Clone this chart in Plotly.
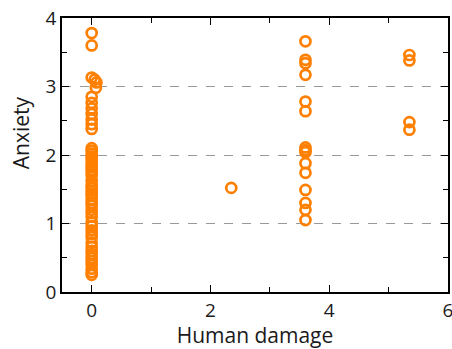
import plotly.graph_objects as go

# Human damage score (x) and anxiety score (y) per respondent
damage_zero = [0, 0, 0, 0.05, 0.08, 0.07, 0, 0, 0, 0, 0, 0, 0,
               0, 0, 0, 0, 0, 0, 0, 0, 0, 0, 0, 0, 0, 0, 0,
               0, 0, 0, 0, 0, 0, 0, 0, 0, 0, 0, 0, 0, 0, 0,
               0, 0, 0, 0, 0, 0, 0, 0]
anxiety_zero = [3.78, 3.60, 3.13, 3.10, 3.06, 2.98, 2.85, 2.76, 2.68, 2.60, 2.52, 2.45, 2.38,
                2.10, 2.06, 2.02, 1.98, 1.94, 1.90, 1.86, 1.82, 1.78, 1.74, 1.70, 1.62, 1.56, 1.52,
                1.48, 1.44, 1.40, 1.35, 1.30, 1.26, 1.20, 1.15, 1.10, 1.02, 0.96, 0.90, 0.85, 0.80,
                0.72, 0.66, 0.60, 0.55, 0.50, 0.45, 0.40, 0.34, 0.29, 0.25]

damage_mid = [2.35]
anxiety_mid = [1.52]

damage_high = [3.6] * 15
anxiety_high = [3.66, 3.39, 3.34, 3.17, 2.78, 2.64, 2.11, 2.07, 2.04, 1.88, 1.74, 1.49, 1.30, 1.20, 1.05]

damage_max = [5.35] * 4
anxiety_max = [3.46, 3.38, 2.48, 2.37]

x_vals = damage_zero + damage_mid + damage_high + damage_max
y_vals = anxiety_zero + anxiety_mid + anxiety_high + anxiety_max

x_ticks = [0, 2, 4, 6]
y_ticks = [0, 1, 2, 3, 4]

ORANGE = "#ff7f00"
FONT = "Open Sans"
TEXT = "#1a1a1a"

fig = go.Figure(
    go.Scatter(
        x=x_vals,
        y=y_vals,
        mode="markers",
        marker=dict(symbol="circle-open", size=10, color=ORANGE,
                    line=dict(width=2.7, color=ORANGE)),
        showlegend=False,
        hoverinfo="x+y",
    )
)

axis_common = dict(
    showline=True,
    linecolor="black",
    linewidth=1.5,
    mirror="ticks",
    ticks="inside",
    ticklen=7,
    tickwidth=1.2,
    tickcolor="black",
    zeroline=False,
    automargin=False,
    ticklabeloverflow="allow",
    tickfont=dict(family=FONT, size=19, color=TEXT),
)

fig.update_xaxes(
    **axis_common,
    range=[-0.5, 6],
    tickvals=x_ticks,
    showgrid=False,
    minor=dict(ticks="inside", dtick=1, ticklen=5, tickwidth=1.2,
               tickcolor="black", showgrid=False),
    title=dict(text="Human damage", font=dict(family=FONT, size=21, color=TEXT), standoff=2),
)

fig.update_yaxes(
    **axis_common,
    range=[0, 4],
    tickvals=y_ticks,
    showgrid=True,
    gridcolor="#999999",
    gridwidth=1,
    griddash="dash",
    minor=dict(ticks="inside", dtick=0.5, ticklen=5, tickwidth=1.2,
               tickcolor="black", showgrid=False),
)

# y-axis title placed as a rotated annotation, sitting slightly above centre
fig.add_annotation(
    text="Anxiety",
    xref="paper", yref="paper",
    x=-0.106, y=0.58,
    xanchor="center", yanchor="middle",
    textangle=-90,
    showarrow=False,
    font=dict(family=FONT, size=21, color=TEXT),
)

fig.update_layout(
    width=452,
    height=349,
    margin=dict(l=62, r=4, t=18, b=57),
    plot_bgcolor="white",
    paper_bgcolor="white",
)

fig.write_html("out.html")
